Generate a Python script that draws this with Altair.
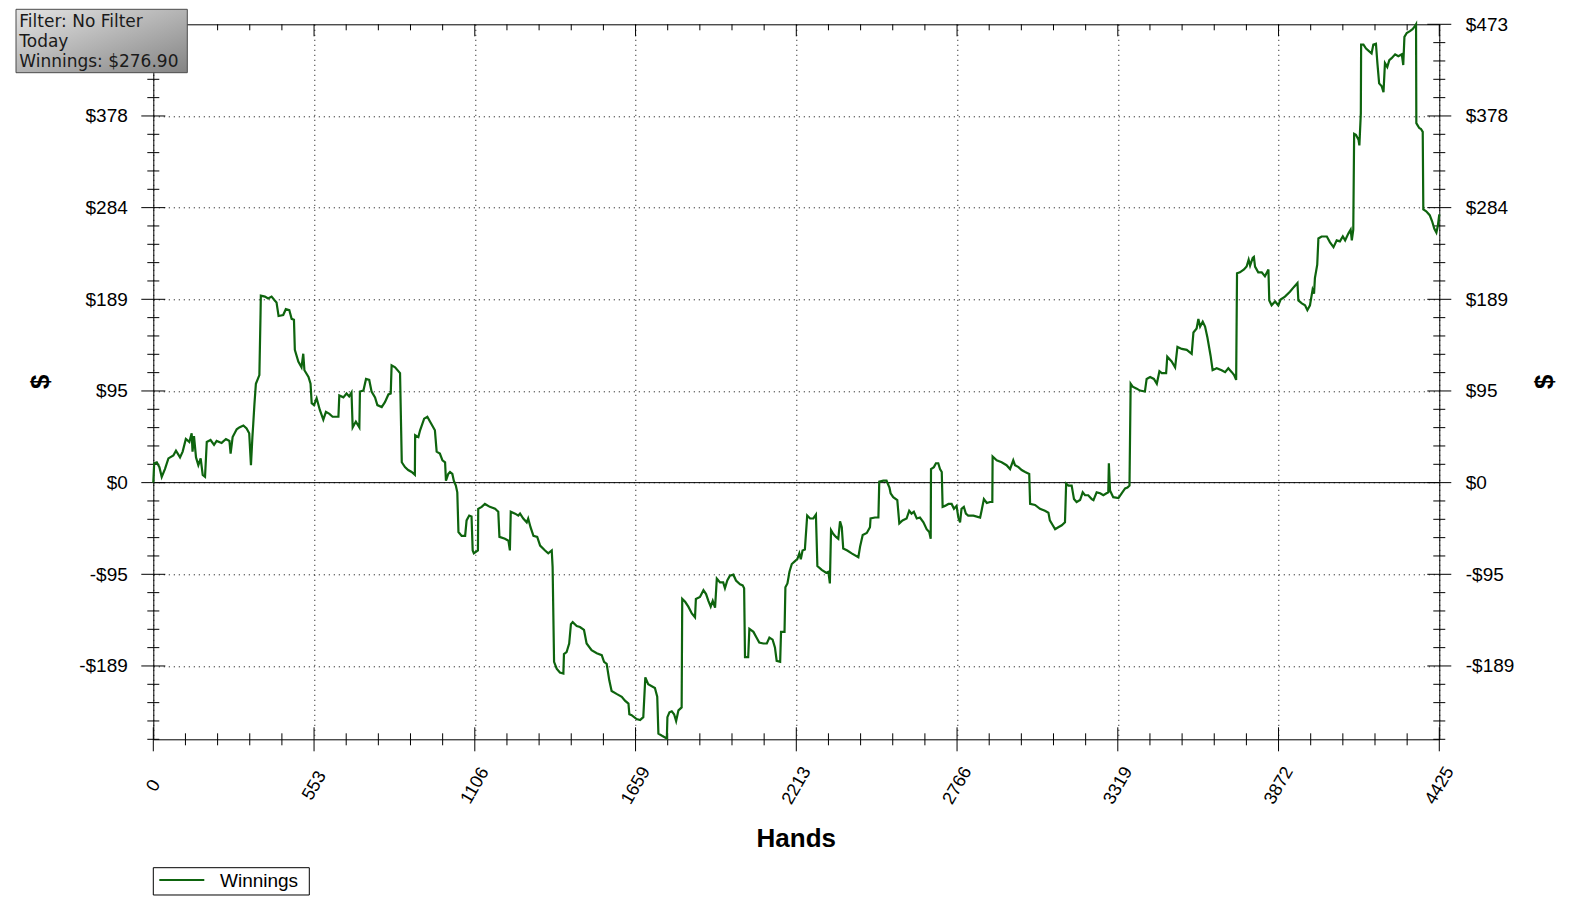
import altair as alt
import pandas as pd

# ---------------- data ----------------
HANDS = [
    0, 3, 12, 21, 29, 40, 52, 69, 78, 92, 101, 112, 124, 132, 135, 140, 147, 155, 163, 170,
    178, 184, 197, 209, 218, 235, 250, 262, 266, 273, 287, 296, 310, 321, 330, 336, 341, 344, 348, 353,
    365, 369, 370, 384, 395, 407, 418, 424, 431, 447, 456, 468, 476, 484, 487, 499, 510, 516, 520, 534,
    541, 545, 553, 562, 573, 585, 594, 606, 617, 637, 640, 654, 665, 674, 682, 686, 697, 709, 711, 723,
    732, 743, 751, 763, 771, 786, 797, 809, 817, 820, 832, 849, 855, 866, 877, 889, 900, 901, 912, 918,
    932, 943, 952, 969, 975, 986, 995, 1004, 1007, 1015, 1021, 1029, 1034, 1041, 1046, 1050, 1061, 1073, 1078, 1087,
    1095, 1099, 1103, 1117, 1118, 1130, 1141, 1158, 1176, 1187, 1191, 1210, 1222, 1227, 1230, 1245, 1256, 1262, 1273, 1285,
    1290, 1298, 1308, 1321, 1331, 1348, 1359, 1371, 1374, 1379, 1388, 1399, 1411, 1413, 1422, 1431, 1437, 1443, 1457, 1468,
    1482, 1491, 1508, 1526, 1543, 1551, 1560, 1569, 1577, 1594, 1612, 1623, 1635, 1638, 1646, 1663, 1675, 1686, 1693, 1703,
    1726, 1734, 1738, 1749, 1761, 1767, 1769, 1776, 1784, 1792, 1799, 1807, 1818, 1820, 1830, 1841, 1853, 1864, 1867, 1881,
    1893, 1902, 1910, 1918, 1925, 1933, 1939, 1950, 1961, 1967, 1975, 1984, 1996, 2005, 2019, 2028, 2033, 2036, 2047, 2051,
    2065, 2076, 2085, 2099, 2111, 2120, 2131, 2139, 2145, 2157, 2160, 2172, 2175, 2182, 2189, 2197, 2208, 2216, 2223, 2228,
    2234, 2242, 2250, 2260, 2271, 2280, 2285, 2300, 2315, 2323, 2328, 2332, 2340, 2349, 2357, 2363, 2369, 2374, 2388, 2403,
    2426, 2432, 2441, 2455, 2466, 2468, 2483, 2495, 2498, 2512, 2523, 2533, 2537, 2546, 2560, 2567, 2578, 2592, 2601, 2609,
    2617, 2627, 2638, 2650, 2661, 2670, 2675, 2676, 2686, 2693, 2701, 2707, 2713, 2716, 2724, 2736, 2747, 2755, 2764, 2770,
    2776, 2781, 2789, 2796, 2804, 2822, 2845, 2850, 2858, 2868, 2879, 2887, 2888, 2902, 2919, 2936, 2948, 2959, 2965, 2977,
    2988, 3000, 3014, 3017, 3034, 3051, 3068, 3080, 3085, 3095, 3103, 3114, 3126, 3137, 3141, 3149, 3160, 3168, 3177, 3189,
    3198, 3206, 3217, 3229, 3235, 3246, 3258, 3269, 3280, 3286, 3288, 3292, 3303, 3321, 3332, 3344, 3352, 3359, 3363, 3370,
    3384, 3395, 3412, 3418, 3430, 3443, 3453, 3462, 3470, 3485, 3489, 3504, 3516, 3524, 3539, 3556, 3573, 3579, 3590, 3596,
    3602, 3611, 3619, 3627, 3638, 3645, 3659, 3676, 3688, 3699, 3711, 3719, 3726, 3729, 3739, 3753, 3762, 3769, 3774, 3783,
    3787, 3791, 3802, 3814, 3825, 3837, 3840, 3848, 3860, 3871, 3879, 3894, 3911, 3925, 3937, 3940, 3952, 3963, 3971, 3980,
    3989, 3994, 3997, 4005, 4009, 4020, 4038, 4049, 4061, 4072, 4083, 4093, 4101, 4112, 4120, 4124, 4129, 4132, 4138, 4147,
    4150, 4155, 4156, 4164, 4173, 4184, 4192, 4198, 4207, 4212, 4218, 4227, 4233, 4238, 4246, 4253, 4261, 4273, 4284, 4296,
    4301, 4305, 4313, 4324, 4333, 4341, 4345, 4346, 4350, 4356, 4362, 4368, 4370, 4380, 4392, 4400, 4408, 4415, 4420, 4425,
]
WINNINGS = [
    0, 20, 21, 16, 6, 14, 25, 28, 33, 26, 32, 45, 42, 51, 32, 48, 26, 18, 25, 8,
    6, 42, 44, 39, 43, 41, 45, 43, 30, 47, 55, 57, 59, 56, 51, 18, 47, 61, 81, 102,
    111, 174, 193, 192, 190, 192, 188, 186, 172, 173, 179, 178, 169, 168, 137, 125, 119, 133, 116, 109,
    102, 82, 80, 87, 75, 65, 73, 71, 68, 68, 90, 88, 92, 89, 93, 57, 63, 57, 94, 95,
    107, 106, 94, 88, 80, 78, 83, 91, 92, 121, 119, 113, 21, 16, 13, 11, 8, 49, 47, 54,
    66, 68, 63, 54, 32, 30, 23, 21, 2, 9, 11, 9, 2, -3, -10, -51, -55, -55, -39, -34,
    -35, -70, -73, -70, -27, -25, -22, -25, -27, -30, -56, -58, -60, -70, -30, -32, -34, -32, -37, -41,
    -37, -46, -55, -56, -65, -70, -73, -70, -87, -185, -192, -196, -197, -177, -175, -166, -146, -144, -148, -149,
    -152, -166, -173, -176, -178, -185, -187, -204, -215, -218, -221, -225, -228, -239, -240, -244, -245, -242, -201, -208,
    -212, -221, -259, -261, -263, -264, -242, -237, -236, -239, -246, -235, -232, -120, -123, -128, -135, -139, -120, -118,
    -111, -115, -122, -128, -122, -129, -99, -103, -103, -109, -101, -96, -95, -101, -105, -106, -109, -180, -180, -151,
    -154, -160, -165, -166, -166, -160, -162, -170, -184, -185, -154, -154, -108, -104, -92, -84, -81, -79, -73, -79,
    -70, -69, -34, -37, -37, -33, -86, -90, -93, -92, -104, -49, -53, -56, -58, -40, -46, -68, -70, -73,
    -77, -66, -54, -52, -46, -37, -36, -36, 1, 2, 2, -5, -11, -15, -18, -42, -39, -37, -29, -32,
    -30, -37, -36, -41, -48, -51, -58, 14, 16, 20, 20, 14, 11, -25, -24, -22, -22, -27, -24, -36,
    -41, -27, -25, -32, -34, -34, -36, -29, -17, -21, -20, -20, 27, 23, 21, 18, 14, 23, 18, 16,
    13, 11, 9, -22, -23, -27, -29, -31, -39, -44, -48, -46, -44, -41, -1, -3, -3, -17, -20, -18,
    -10, -13, -13, -17, -18, -10, -11, -13, -11, -10, 20, -8, -15, -16, -11, -6, -5, -3, 102, 99,
    97, 95, 94, 107, 109, 107, 102, 115, 113, 113, 130, 125, 119, 140, 138, 137, 133, 155, 159, 169,
    161, 166, 161, 150, 131, 116, 118, 116, 114, 118, 114, 111, 106, 216, 217, 220, 223, 230, 224, 232,
    233, 223, 217, 217, 213, 220, 188, 183, 187, 183, 189, 192, 197, 202, 206, 188, 185, 183, 178, 183,
    199, 195, 211, 225, 252, 254, 254, 248, 243, 250, 249, 254, 250, 257, 261, 250, 261, 360, 359, 354,
    348, 381, 452, 452, 448, 445, 443, 452, 453, 433, 412, 409, 403, 433, 429, 436, 438, 442, 440, 442,
    431, 460, 464, 466, 468, 471, 473, 371, 369, 366, 365, 362, 282, 280, 276, 270, 262, 258, 265, 276.9,
]

FILTER_LINES = ["Filter: No Filter", "Today"]
SERIES_NAME = "Winnings"

X_MAX = 4425
X_STEP = 553.125          # 4425 / 8
Y_MIN, Y_MAX = -264.88, 473
Y_STEP = 94.6             # 473 / 5

X_MAJOR = [i * X_STEP for i in range(9)]
X_MINOR = [i * X_STEP / 5 for i in range(41) if i % 5]
Y_MAJOR = [-189.2, -94.6, 0, 94.6, 189.2, 283.8, 378.4, 473]
Y_MINOR = [Y_MIN + k * Y_STEP / 5 for k in range(40) if (k - 4) % 5]
Y_LEFT_LABELS = Y_MAJOR[:-1]   # the top-left label is hidden under the info box

W, H = 1286, 715
GREEN = "#0e640e"
LABEL_FONT = "Liberation Sans"
YLABEL_EXPR = "datum.value < 0 ? '-$' + format(-datum.value, '.0f') : '$' + format(datum.value, '.0f')"

df = pd.DataFrame({"hands": HANDS, "winnings": WINNINGS, "idx": range(len(HANDS))})

xs = alt.Scale(domain=[0, X_MAX], nice=False, zero=False)
ys = alt.Scale(domain=[Y_MIN, Y_MAX], nice=False, zero=False)

one = pd.DataFrame({"a": [0]})

line = alt.Chart(df).mark_line(color=GREEN, strokeWidth=2.2).encode(
    x=alt.X("hands:Q", scale=xs, axis=alt.Axis(
        values=X_MAJOR, format=".0f", title=None, ticks=False, tickSize=0, domain=False,
        grid=True, gridColor="#000000", gridDash=[1, 4], gridWidth=1,
        labelAngle=-60, labelAlign="center", labelBaseline="middle", labelPadding=46,
        labelFont=LABEL_FONT, labelFontSize=18, labelColor="#000000",
        labelFlush=False, labelOverlap=False, labelBound=False)),
    y=alt.Y("winnings:Q", scale=ys, axis=alt.Axis(
        values=Y_LEFT_LABELS, labelExpr=YLABEL_EXPR, title=None, ticks=False, tickSize=0, domain=False,
        grid=True, gridColor="#000000", gridDash=[1, 4], gridWidth=1,
        labelPadding=26, labelFont=LABEL_FONT, labelFontSize=19, labelColor="#000000",
        labelFlush=False, labelOverlap=False, labelBound=False)),
    order="idx:Q",
)

zero_rule = alt.Chart(pd.DataFrame({"v": [0]})).mark_rule(color="#000000", strokeWidth=1).encode(
    y=alt.Y("v:Q", scale=ys, axis=None))


def xtick_layer(vals, y1, y2):
    return alt.Chart(pd.DataFrame({"v": vals})).mark_rule(color="#000000", strokeWidth=1).encode(
        x=alt.X("v:Q", scale=xs, axis=None), y=alt.value(y1), y2=alt.value(y2))


def ytick_layer(vals, x1, x2, axis=None):
    return alt.Chart(pd.DataFrame({"v": vals})).mark_rule(color="#000000", strokeWidth=1).encode(
        y=alt.Y("v:Q", scale=ys, axis=axis), x=alt.value(x1), x2=alt.value(x2))


right_axis = alt.Axis(
    orient="right", values=Y_MAJOR, labelExpr=YLABEL_EXPR, title=None, ticks=False, tickSize=0,
    domain=False, grid=False, labelPadding=26, labelFont=LABEL_FONT, labelFontSize=19,
    labelColor="#000000", labelFlush=False, labelOverlap=False, labelBound=False)

ticks = [
    xtick_layer(X_MAJOR, H - 12, H + 12),
    xtick_layer(X_MINOR, H - 6, H + 6),
    xtick_layer(X_MAJOR, 0, 12),
    xtick_layer(X_MINOR, 0, 6),
    ytick_layer(Y_MAJOR, -12, 12),
    ytick_layer(Y_MINOR, -6, 6),
    ytick_layer(Y_MAJOR, W - 12, W + 12, axis=right_axis),
    ytick_layer(Y_MINOR, W - 6, W + 6),
]

title_style = dict(font=LABEL_FONT, fontSize=26, fontWeight="bold", color="#000000")
x_title = alt.Chart(one).mark_text(text="Hands", align="center", baseline="alphabetic", **title_style).encode(
    x=alt.value(W / 2), y=alt.value(823))
y_title_l = alt.Chart(one).mark_text(text="$", align="center", baseline="middle", angle=270, **title_style).encode(
    x=alt.value(-112), y=alt.value(H / 2))
y_title_r = alt.Chart(one).mark_text(text="$", align="center", baseline="middle", angle=270, **title_style).encode(
    x=alt.value(W + 106), y=alt.value(H / 2))

# legend
leg_box = alt.Chart(one).mark_rect(fill="white", stroke="#000000", strokeWidth=1).encode(
    x=alt.value(0), x2=alt.value(156), y=alt.value(843.4), y2=alt.value(870.7))
leg_line = alt.Chart(one).mark_rule(color=GREEN, strokeWidth=2).encode(
    x=alt.value(6), x2=alt.value(51), y=alt.value(855.7))
leg_text = alt.Chart(one).mark_text(text=SERIES_NAME, align="left", baseline="alphabetic",
                                    font=LABEL_FONT, fontSize=19, color="#000000").encode(
    x=alt.value(66.7), y=alt.value(863))

# info box (top-left)
grad = alt.LinearGradient(
    gradient="linear", x1=0, y1=0, x2=1, y2=1,
    stops=[alt.GradientStop(color="#e4e4e4", offset=0),
           alt.GradientStop(color="#b4b4b4", offset=0.5),
           alt.GradientStop(color="#848484", offset=1)])
info_box = alt.Chart(one).mark_rect(fill=grad, stroke="#4a4a4a", strokeWidth=1).encode(
    x=alt.value(-137.3), x2=alt.value(34), y=alt.value(-15), y2=alt.value(48.4))
info_lines = FILTER_LINES + [f"{SERIES_NAME}: ${WINNINGS[-1]:.2f}"]
info_text = alt.Chart(one).mark_text(align="left", baseline="alphabetic", font="DejaVu Sans",
                                     fontSize=17, lineHeight=20, color="#1a1a1a").encode(
    x=alt.value(-134), y=alt.value(2.4), text=alt.value(info_lines))

chart = alt.layer(
    zero_rule, *ticks, line, x_title, y_title_l, y_title_r,
    leg_box, leg_line, leg_text, info_box, info_text,
).resolve_axis(x="independent", y="independent").properties(
    width=W, height=H,
    autosize=alt.AutoSizeParams(type="none"),
    padding={"left": 145.3, "top": 16.3, "right": 140, "bottom": 165},
    background="white",
).configure_view(stroke="#000000", strokeWidth=1)

chart.save("out.html", embed_options={"renderer": "svg", "actions": False})
